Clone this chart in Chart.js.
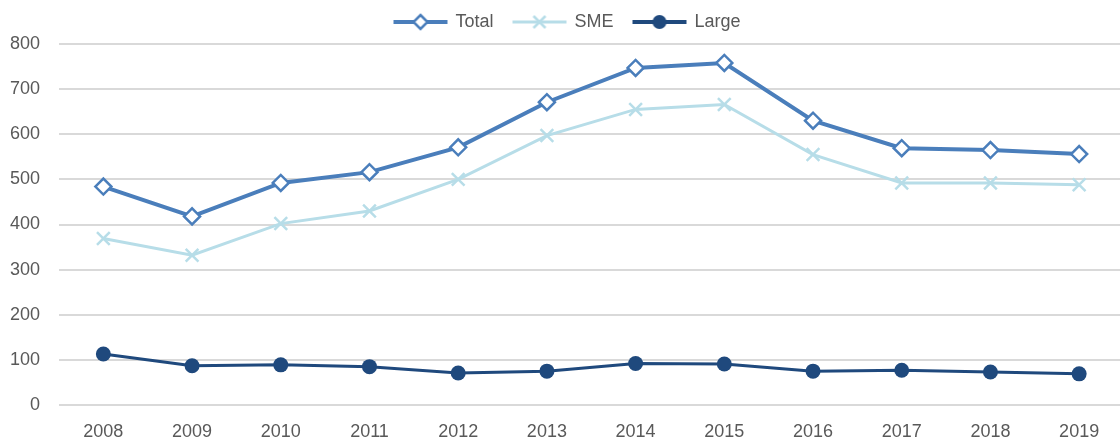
<!DOCTYPE html>
<html>
<head>
<meta charset="utf-8">
<script src="https://cdn.jsdelivr.net/npm/chart.js@4"></script>
<style>
  html, body { margin: 0; padding: 0; background: #fff; overflow: hidden; }
  #wrap { width: 1135px; height: 439px; }
</style>
</head>
<body>
<div id="wrap"><canvas id="lineChart" width="1135" height="439"></canvas></div>
<script>
let years = ["2008","2009","2010","2011","2012","2013","2014","2015","2016","2017","2018","2019"];
let totalValues = [484, 418, 492, 516, 571, 671, 747, 758, 630, 569, 565, 556];
let smeValues = [369, 332, 402, 430, 500, 597, 655, 666, 555, 492, 492, 488];
let largeValues = [113, 87, 89, 85, 71, 75, 92, 91, 75, 77, 73, 69];

let totalColor = "#4a7ebb";
let smeColor = "#b7dde8";
let largeColor = "#1f497d";
let fontName = "'Liberation Sans', Arial, sans-serif";

// little canvas that looks like line + marker for the legend
function legendIcon(color, style, fill){
    let c = document.createElement("canvas");
    c.width = 56;
    c.height = 18;
    let g = c.getContext("2d");
    g.strokeStyle = color;
    g.lineWidth = style == "crossRot" ? 3 : 4;
    g.beginPath();
    g.moveTo(1, 9);
    g.lineTo(55, 9);
    g.stroke();
    g.lineWidth = 2.5;
    if(style == "rectRot"){
        g.fillStyle = fill;
        g.beginPath();
        g.moveTo(28, 2); g.lineTo(35, 9); g.lineTo(28, 16); g.lineTo(21, 9);
        g.closePath();
        g.fill();
        g.stroke();
    } else if(style == "crossRot"){
        g.beginPath();
        g.moveTo(22, 3); g.lineTo(34, 15);
        g.moveTo(34, 3); g.lineTo(22, 15);
        g.stroke();
    } else {
        g.fillStyle = color;
        g.beginPath();
        g.arc(28, 9, 7, 0, Math.PI*2);
        g.fill();
    }
    return c;
}

let icons = [
    legendIcon(totalColor, "rectRot", "#fff"),
    legendIcon(smeColor, "crossRot"),
    legendIcon(largeColor, "circle")
];

// push the plot a bit further below the legend
let legendGap = {
    id: "legendGap",
    beforeInit: function(chart){
        let origFit = chart.legend.fit;
        chart.legend.fit = function(){
            origFit.bind(chart.legend)();
            this.height += 3;
        };
    }
};

Chart.defaults.font.family = fontName;
Chart.defaults.color = "#595959";

var ctx = document.getElementById("lineChart").getContext("2d");
var myChart = new Chart(ctx, {
    type: "line",
    data: {
        labels: years,
        datasets: [{
            label: "Total",
            data: totalValues,
            borderColor: totalColor,
            backgroundColor: "#fff",
            borderWidth: 4,
            pointStyle: "rectRot",
            pointRadius: 8,
            pointBorderWidth: 2.5,
            pointBackgroundColor: "#fff",
            pointBorderColor: totalColor,
            tension: 0
        }, {
            label: "SME",
            data: smeValues,
            borderColor: smeColor,
            backgroundColor: smeColor,
            borderWidth: 3,
            pointStyle: "crossRot",
            pointRadius: 9,
            pointBorderWidth: 2.5,
            pointBorderColor: smeColor,
            tension: 0
        }, {
            label: "Large",
            data: largeValues,
            borderColor: largeColor,
            backgroundColor: largeColor,
            borderWidth: 3,
            pointStyle: "circle",
            pointRadius: 7.5,
            pointBorderWidth: 0,
            pointBackgroundColor: largeColor,
            tension: 0
        }]
    },
    plugins: [legendGap],
    options: {
        responsive: false,
        animation: false,
        layout: { padding: { left: 0, right: 0, top: -7, bottom: 0 } },
        plugins: {
            tooltip: { enabled: false },
            legend: {
                position: "top",
                labels: {
                    usePointStyle: true,
                    pointStyleWidth: 52,
                    boxHeight: 18,
                    padding: 20,
                    font: { size: 18 },
                    color: "#595959",
                    generateLabels: function(chart){
                        return chart.data.datasets.map(function(ds, i){
                            return {
                                text: ds.label,
                                pointStyle: icons[i],
                                fillStyle: ds.borderColor,
                                strokeStyle: ds.borderColor,
                                lineWidth: 0,
                                datasetIndex: i,
                                fontColor: "#595959"
                            };
                        });
                    }
                }
            }
        },
        scales: {
            x: {
                offset: true,
                grid: { display: false },
                border: { display: false },
                ticks: { font: { size: 18 }, color: "#595959", maxRotation: 0, padding: 8 },
                afterFit: function(scale){ scale.height = 34; }
            },
            y: {
                min: 0,
                max: 800,
                ticks: { stepSize: 100, font: { size: 18 }, color: "#595959", padding: 19 },
                grid: { color: "#d9d9d9", lineWidth: 2, drawTicks: false },
                border: { display: false },
                afterFit: function(scale){ scale.width = 59; }
            }
        }
    }
});
</script>
</body>
</html>
